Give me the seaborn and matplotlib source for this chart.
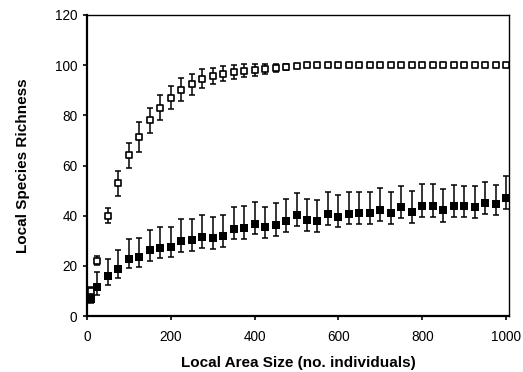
import numpy as np
import pandas as pd
import matplotlib
matplotlib.use("Agg")
import matplotlib.pyplot as plt
import seaborn as sns

# ---- data ----
area = [10, 25, 50, 75, 100, 125, 150, 175, 200, 225, 250, 275, 300, 325, 350, 375, 400,
        425, 450, 475, 500, 525, 550, 575, 600, 625, 650, 675, 700, 725, 750, 775, 800,
        825, 850, 875, 900, 925, 950, 975, 1000]

open_mean = [10, 22, 40, 53, 64, 71.3, 78, 83, 87, 90.2, 92.3, 94.5, 95.5, 96.5, 97.2, 97.8, 98,
             98.4, 98.8, 99.2, 99.6, 100, 100, 100, 100, 100, 100, 100, 100, 100, 100, 100, 100,
             100, 100, 100, 100, 100, 100, 100, 100]
open_err = [1.5, 1.8, 3, 5, 5, 6, 5, 5, 4.5, 4.5, 4.3, 3.8, 3.2, 3, 2.7, 2.5, 2.5,
            2, 1.5, 1.1, 0.8, 0.4, 0.3, 0, 0, 0, 0, 0, 0, 0, 0, 0, 0,
            0, 0, 0, 0, 0, 0, 0, 0]

closed_mean = [6.6, 11.7, 16.1, 18.7, 22.8, 23.4, 26.3, 27.1, 27.6, 30, 30.3, 31.6, 31, 31.8, 34.8, 35.2, 36.5,
               35.3, 36.1, 38, 40.2, 38.2, 38, 40.8, 39.6, 40.8, 41, 40.9, 42.1, 40.9, 43.3, 41.4, 43.9,
               43.9, 42.2, 43.8, 43.9, 43.5, 44.9, 44.6, 46.9]
closed_up = [1.5, 5.7, 6.5, 7.6, 8.1, 7.8, 8.1, 8.2, 8, 8.5, 8.2, 8.5, 8.3, 8.5, 8.7, 8.7, 8.8,
             8.3, 8.9, 8.5, 8.7, 8.5, 8.4, 8.6, 8.6, 8.6, 8.3, 8.5, 9, 8.5, 8.6, 8.5, 8.6,
             8.6, 8.3, 8.4, 8.1, 8.5, 8.6, 7.7, 9]
closed_lo = [1.5, 3.3, 3.7, 3.4, 3.8, 4, 4.4, 4.1, 4.2, 4.4, 4.3, 4.4, 4.2, 4.2, 4.2, 4.4, 4,
             4.1, 4.1, 4.4, 4.3, 4.3, 4.4, 4.5, 4.3, 4.1, 4.5, 4.4, 4.3, 4.4, 4.4, 4.5, 4.3,
             4.3, 4.6, 4.2, 4.3, 4.3, 4.3, 4.4, 4.3]

x_ticks = [0, 200, 400, 600, 800, 1000]
y_ticks = [0, 20, 40, 60, 80, 100, 120]

df_open = pd.DataFrame({"area": area, "richness": open_mean})
df_closed = pd.DataFrame({"area": area, "richness": closed_mean})

# ---- style ----
sns.set_theme(style="white")
plt.rcParams["font.family"] = ["Liberation Sans", "DejaVu Sans"]

fig = plt.figure(figsize=(5.23, 3.72), dpi=100)
ax = fig.add_axes([0.1663, 0.1505, 0.8069, 0.8092])

# error bars
ax.errorbar(area, open_mean, yerr=open_err, fmt="none", ecolor="black",
            elinewidth=1.1, capsize=2.0, capthick=1.1, zorder=2)
ax.errorbar(area, closed_mean, yerr=[closed_lo, closed_up], fmt="none", ecolor="black",
            elinewidth=1.1, capsize=2.0, capthick=1.1, zorder=2)

sns.scatterplot(data=df_open, x="area", y="richness", marker="s", s=14,
                facecolor="white", edgecolor="black", linewidth=1.2, ax=ax, zorder=3)
sns.scatterplot(data=df_closed, x="area", y="richness", marker="s", s=34,
                color="black", edgecolor="black", linewidth=0, ax=ax, zorder=4)

ax.set_xlim(0, 1007)
ax.set_ylim(0, 120)
ax.set_xticks(x_ticks)
ax.set_yticks(y_ticks)
ax.set_xticklabels([str(t) for t in x_ticks], fontsize=9.8)
ax.set_yticklabels([str(t) for t in y_ticks], fontsize=9.8)
ax.tick_params(axis="both", direction="out", length=3, width=1.2, color="black",
               bottom=True, left=True, labelcolor="black")
ax.tick_params(axis="x", pad=7)
ax.tick_params(axis="y", pad=4)

ax.set_xlabel("Local Area Size (no. individuals)", fontsize=11, fontweight="bold",
              labelpad=8.5, color="black")
ax.set_ylabel("Local Species Richness", fontsize=11, fontweight="bold",
              labelpad=17.5, color="black")

for side in ["left", "bottom"]:
    ax.spines[side].set_linewidth(1.6)
    ax.spines[side].set_color("black")
for side in ["top", "right"]:
    ax.spines[side].set_linewidth(1.0)
    ax.spines[side].set_color("black")

fig.savefig("out.png", dpi=100)
